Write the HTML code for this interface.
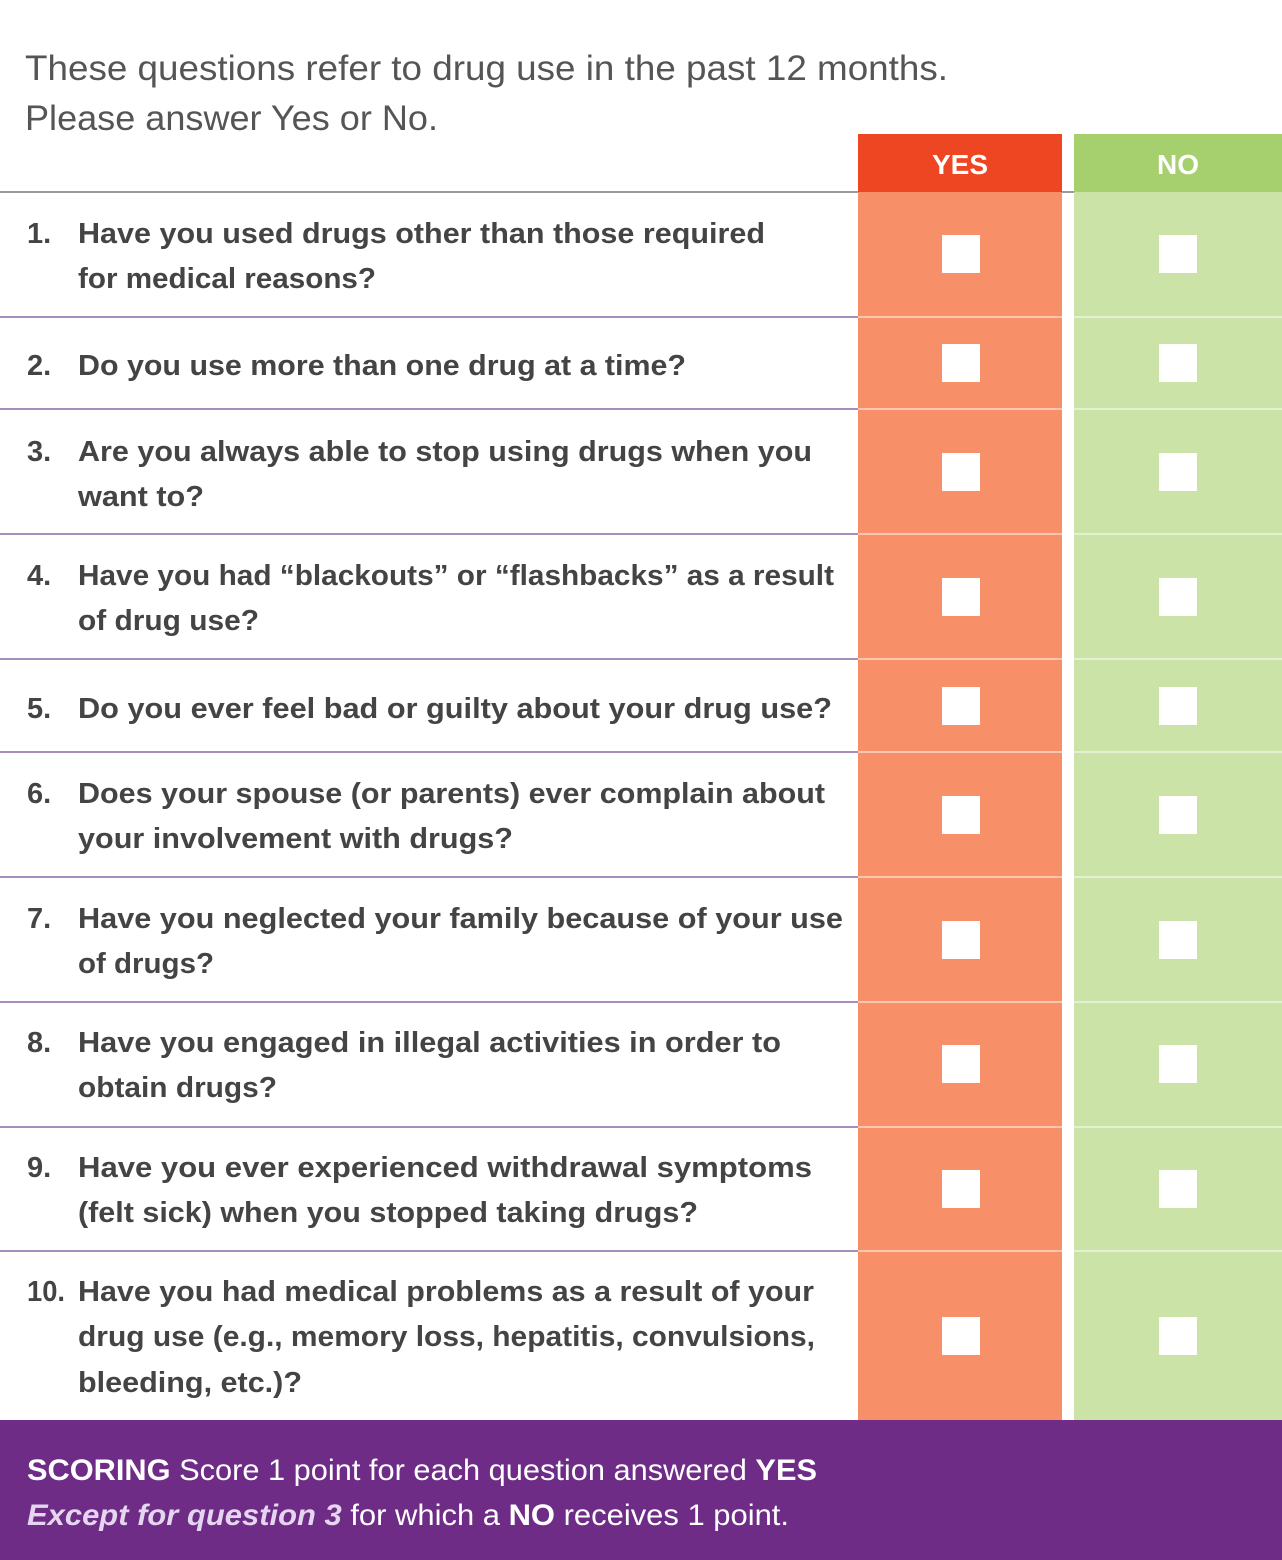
<!DOCTYPE html>
<html><head><meta charset="utf-8"><style>
html,body{margin:0;padding:0;background:#fff;}
svg{display:block;}
.q{font-family:"Liberation Sans",sans-serif;font-weight:bold;font-size:29px;fill:#444;}
.h{font-family:"Liberation Sans",sans-serif;font-size:35px;fill:#555;}
.f{font-family:"Liberation Sans",sans-serif;font-size:30px;fill:#fff;}
</style></head><body>
<svg width="1282" height="1560" viewBox="0 0 1282 1560" xmlns="http://www.w3.org/2000/svg">
<rect width="1282" height="1560" fill="#fff"/>
<text class="h" x="25" y="80" textLength="923" lengthAdjust="spacingAndGlyphs">These questions refer to drug use in the past 12 months.</text>
<text class="h" x="25" y="130" textLength="413" lengthAdjust="spacingAndGlyphs">Please answer Yes or No.</text>
<!-- columns -->
<rect x="858" y="134" width="204" height="58" fill="#EE4623"/>
<rect x="1074" y="134" width="208" height="58" fill="#A6CF6E"/>
<rect x="858" y="192" width="204" height="1228" fill="#F79069"/>
<rect x="1074" y="192" width="208" height="1228" fill="#CCE3A7"/>
<text x="960" y="174" text-anchor="middle" font-family="Liberation Sans,sans-serif" font-weight="bold" font-size="28" fill="#fff">YES</text>
<text x="1178" y="174" text-anchor="middle" font-family="Liberation Sans,sans-serif" font-weight="bold" font-size="28" fill="#fff">NO</text>
<line x1="0" y1="192" x2="858" y2="192" stroke="#9a9a9a" stroke-width="2"/>
<line x1="1062" y1="192" x2="1074" y2="192" stroke="#9a9a9a" stroke-width="2"/>
<g stroke="#8A67A6" stroke-width="1.6">
<line x1="0" y1="317" x2="858" y2="317"/><line x1="0" y1="409" x2="858" y2="409"/>
<line x1="0" y1="534" x2="858" y2="534"/><line x1="0" y1="659" x2="858" y2="659"/>
<line x1="0" y1="752" x2="858" y2="752"/><line x1="0" y1="877" x2="858" y2="877"/>
<line x1="0" y1="1002" x2="858" y2="1002"/><line x1="0" y1="1127" x2="858" y2="1127"/>
<line x1="0" y1="1251" x2="858" y2="1251"/>
</g>
<g stroke="#fbd9c8" stroke-width="1.5">
<line x1="858" y1="317" x2="1062" y2="317"/><line x1="858" y1="409" x2="1062" y2="409"/>
<line x1="858" y1="534" x2="1062" y2="534"/><line x1="858" y1="659" x2="1062" y2="659"/>
<line x1="858" y1="752" x2="1062" y2="752"/><line x1="858" y1="877" x2="1062" y2="877"/>
<line x1="858" y1="1002" x2="1062" y2="1002"/><line x1="858" y1="1127" x2="1062" y2="1127"/>
<line x1="858" y1="1251" x2="1062" y2="1251"/>
</g>
<g stroke="#ecf5df" stroke-width="1.5">
<line x1="1074" y1="317" x2="1282" y2="317"/><line x1="1074" y1="409" x2="1282" y2="409"/>
<line x1="1074" y1="534" x2="1282" y2="534"/><line x1="1074" y1="659" x2="1282" y2="659"/>
<line x1="1074" y1="752" x2="1282" y2="752"/><line x1="1074" y1="877" x2="1282" y2="877"/>
<line x1="1074" y1="1002" x2="1282" y2="1002"/><line x1="1074" y1="1127" x2="1282" y2="1127"/>
<line x1="1074" y1="1251" x2="1282" y2="1251"/>
</g>
<!-- checkboxes -->
<g fill="#fff">
<rect x="942" y="235" width="38" height="38"/><rect x="1159" y="235" width="38" height="38"/>
<rect x="942" y="344" width="38" height="38"/><rect x="1159" y="344" width="38" height="38"/>
<rect x="942" y="453" width="38" height="38"/><rect x="1159" y="453" width="38" height="38"/>
<rect x="942" y="578" width="38" height="38"/><rect x="1159" y="578" width="38" height="38"/>
<rect x="942" y="687" width="38" height="38"/><rect x="1159" y="687" width="38" height="38"/>
<rect x="942" y="796" width="38" height="38"/><rect x="1159" y="796" width="38" height="38"/>
<rect x="942" y="921" width="38" height="38"/><rect x="1159" y="921" width="38" height="38"/>
<rect x="942" y="1045" width="38" height="38"/><rect x="1159" y="1045" width="38" height="38"/>
<rect x="942" y="1170" width="38" height="38"/><rect x="1159" y="1170" width="38" height="38"/>
<rect x="942" y="1317" width="38" height="38"/><rect x="1159" y="1317" width="38" height="38"/>
</g>
<!-- questions -->
<g class="q">
<text x="27" y="243">1.</text>
<text x="78" y="243" textLength="687" lengthAdjust="spacingAndGlyphs">Have you used drugs other than those required</text>
<text x="78" y="288" textLength="298" lengthAdjust="spacingAndGlyphs">for medical reasons?</text>
<text x="27" y="375">2.</text>
<text x="78" y="375" textLength="608" lengthAdjust="spacingAndGlyphs">Do you use more than one drug at a time?</text>
<text x="27" y="461">3.</text>
<text x="78" y="461" textLength="734" lengthAdjust="spacingAndGlyphs">Are you always able to stop using drugs when you</text>
<text x="78" y="506" textLength="126" lengthAdjust="spacingAndGlyphs">want to?</text>
<text x="27" y="585">4.</text>
<text x="78" y="585" textLength="756" lengthAdjust="spacingAndGlyphs">Have you had “blackouts” or “flashbacks” as a result</text>
<text x="78" y="630" textLength="181" lengthAdjust="spacingAndGlyphs">of drug use?</text>
<text x="27" y="718">5.</text>
<text x="78" y="718" textLength="754" lengthAdjust="spacingAndGlyphs">Do you ever feel bad or guilty about your drug use?</text>
<text x="27" y="803">6.</text>
<text x="78" y="803" textLength="747" lengthAdjust="spacingAndGlyphs">Does your spouse (or parents) ever complain about</text>
<text x="78" y="848" textLength="435" lengthAdjust="spacingAndGlyphs">your involvement with drugs?</text>
<text x="27" y="928">7.</text>
<text x="78" y="928" textLength="765" lengthAdjust="spacingAndGlyphs">Have you neglected your family because of your use</text>
<text x="78" y="973" textLength="136" lengthAdjust="spacingAndGlyphs">of drugs?</text>
<text x="27" y="1052">8.</text>
<text x="78" y="1052" textLength="703" lengthAdjust="spacingAndGlyphs">Have you engaged in illegal activities in order to</text>
<text x="78" y="1097" textLength="199" lengthAdjust="spacingAndGlyphs">obtain drugs?</text>
<text x="27" y="1177">9.</text>
<text x="78" y="1177" textLength="734" lengthAdjust="spacingAndGlyphs">Have you ever experienced withdrawal symptoms</text>
<text x="78" y="1222" textLength="620" lengthAdjust="spacingAndGlyphs">(felt sick) when you stopped taking drugs?</text>
<text x="27" y="1301" textLength="38" lengthAdjust="spacingAndGlyphs">10.</text>
<text x="78" y="1301" textLength="736" lengthAdjust="spacingAndGlyphs">Have you had medical problems as a result of your</text>
<text x="78" y="1346" textLength="737" lengthAdjust="spacingAndGlyphs">drug use (e.g., memory loss, hepatitis, convulsions,</text>
<text x="78" y="1392" textLength="224" lengthAdjust="spacingAndGlyphs">bleeding, etc.)?</text>
</g>
<!-- footer -->
<rect x="0" y="1420" width="1282" height="140" fill="#6E2C87"/>
<text class="f" x="27" y="1480" textLength="790" lengthAdjust="spacingAndGlyphs"><tspan font-weight="bold">SCORING</tspan> Score 1 point for each question answered <tspan font-weight="bold">YES</tspan></text>
<text class="f" x="27" y="1525" textLength="762" lengthAdjust="spacingAndGlyphs"><tspan font-weight="bold" font-style="italic" fill="#E4D6EE">Except for question 3</tspan> for which a <tspan font-weight="bold">NO</tspan> receives 1 point.</text>
</svg>
</body></html>
